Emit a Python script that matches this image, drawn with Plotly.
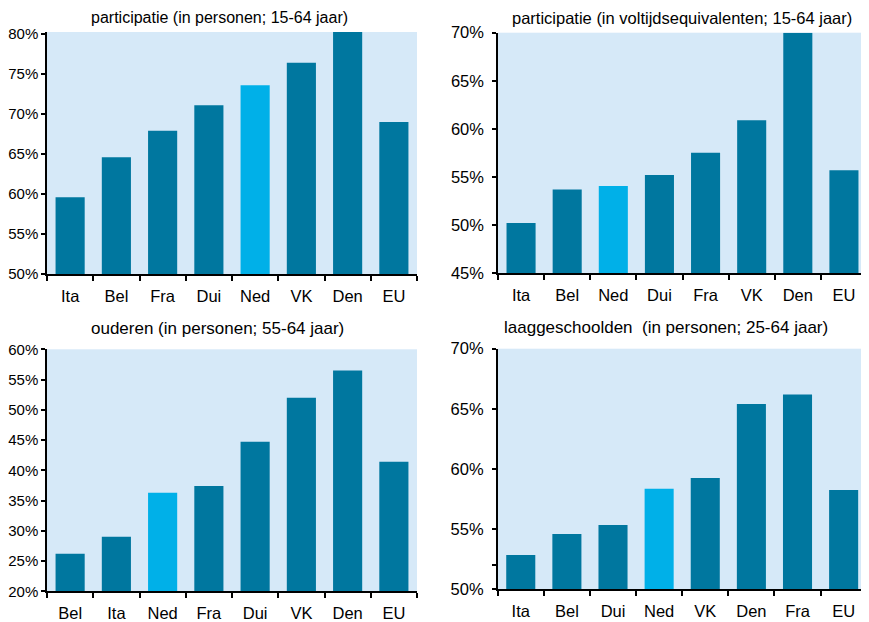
import plotly.graph_objects as go

W, H = 869, 622
OFF = 8  # page body margin offset

# ---- data ----
cats1 = ["Ita", "Bel", "Fra", "Dui", "Ned", "VK", "Den", "EU"]
vals1 = [59.6, 64.6, 67.9, 71.1, 73.6, 76.4, 80.4, 69.0]
title1 = "participatie (in personen; 15-64 jaar)"

cats2 = ["Ita", "Bel", "Ned", "Dui", "Fra", "VK", "Den", "EU"]
vals2 = [50.2, 53.7, 54.05, 55.2, 57.5, 60.9, 70.0, 55.7]
title2 = "participatie (in voltijdsequivalenten; 15-64 jaar)"

cats3 = ["Bel", "Ita", "Ned", "Fra", "Dui", "VK", "Den", "EU"]
vals3 = [26.2, 29.0, 36.3, 37.4, 44.7, 52.0, 56.5, 41.4]
title3 = "ouderen (in personen; 55-64 jaar)"

cats4 = ["Ita", "Bel", "Dui", "Ned", "VK", "Den", "Fra", "EU"]
vals4 = [52.85, 54.6, 55.35, 58.35, 59.25, 65.4, 66.2, 58.25]
title4 = "laaggeschoolden  (in personen; 25-64 jaar)"

DARK = "#00779F"
LIGHT = "#00B0E8"
BG = "#D6E9F8"
FONT = "Liberation Sans"

# panel geometry in screen pixels: (x0, x1, ytop, ybottom), y-range, ticks, title center
panels = [
    dict(cats=cats1, vals=vals1, title=title1, box=(47, 417, 32, 274), rng=[50, 80.25],
         tickvals=[50, 55, 60, 65, 70, 75, 80], tcx=219, tcy=18, tfs=16, yfs=15, ystand=0),
    dict(cats=cats2, vals=vals2, title=title2, box=(498, 867, 32.7, 273), rng=[45, 70],
         tickvals=[45, 50, 55, 60, 65, 70], tcx=682, tcy=18, tfs=16.5, yfs=16.5, ystand=5),
    dict(cats=cats3, vals=vals3, title=title3, box=(47, 417, 349.3, 591.3), rng=[20, 60],
         tickvals=[20, 25, 30, 35, 40, 45, 50, 55, 60], tcx=217, tcy=328, tfs=17, yfs=15, ystand=0),
    dict(cats=cats4, vals=vals4, title=title4, box=(497.7, 866.7, 348.7, 589.3), rng=[50, 70],
         tickvals=[50, 52, 55, 60, 65, 70], tcx=666, tcy=327, tfs=17, yfs=16.5, ystand=5),
]


def px(x):
    return (x - OFF) / W


def py(y):
    return 1 - (y - OFF) / H


fig = go.Figure()
layout = dict(
    template="none",
    width=W, height=H, autosize=False,
    margin=dict(l=0, r=0, t=0, b=0, pad=0),
    paper_bgcolor="white", plot_bgcolor=BG,
    showlegend=False, bargap=0.37,
    font=dict(family=FONT, size=16, color="black"),
    annotations=[],
)

for i, p in enumerate(panels, start=1):
    xa = "x" if i == 1 else f"x{i}"
    ya = "y" if i == 1 else f"y{i}"
    colors = [LIGHT if c == "Ned" else DARK for c in p["cats"]]
    fig.add_trace(go.Bar(x=p["cats"], y=p["vals"], marker=dict(color=colors, line=dict(width=0)),
                         xaxis=xa, yaxis=ya, hoverinfo="x+y"))
    x0, x1, yt, yb = p["box"]
    ticktext = [("" if (i == 4 and v == 52) else f"{v}%") for v in p["tickvals"]]
    layout["xaxis" if i == 1 else f"xaxis{i}"] = dict(
        domain=[px(x0), px(x1)], anchor=ya, automargin=False,
        showline=True, linecolor="black", linewidth=1.5,
        ticks="outside", tickson="boundaries", ticklen=5, tickcolor="black", tickwidth=1.5,
        ticklabelstandoff=6,
        showgrid=False, tickfont=dict(size=16.5, family=FONT), fixedrange=True,
    )
    layout["yaxis" if i == 1 else f"yaxis{i}"] = dict(
        domain=[py(yb), py(yt)], anchor=xa, range=p["rng"], automargin=False,
        tickvals=p["tickvals"], ticktext=ticktext,
        showline=True, linecolor="black", linewidth=1.5,
        ticks="outside", ticklen=4, tickcolor="black", tickwidth=1.5,
        ticklabelstandoff=p["ystand"],
        showgrid=False, zeroline=False, tickfont=dict(size=p["yfs"], family=FONT), fixedrange=True,
    )
    layout["annotations"].append(dict(
        text=p["title"], x=px(p["tcx"]), y=py(p["tcy"]), xref="paper", yref="paper",
        xanchor="center", yanchor="middle", showarrow=False,
        font=dict(size=p["tfs"], family=FONT, color="black"),
    ))

fig.update_layout(**layout)
fig.write_html("out.html")
